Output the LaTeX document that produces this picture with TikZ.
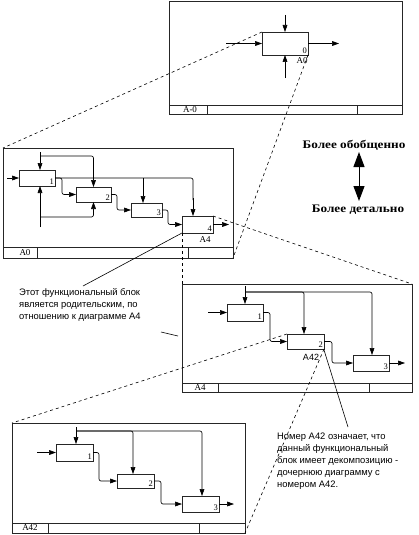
\documentclass[tikz,border=0pt]{standalone}
\usepackage{fontspec}
\setmainfont{Liberation Serif}
\newfontfamily\sansf{Liberation Sans}
\newfontfamily\widef[FakeStretch=1.15]{Liberation Serif}
\usetikzlibrary{arrows.meta,calc}
\begin{document}
\begin{tikzpicture}[x=1pt,y=-1pt,
  frame/.style={draw=black!85,line width=0.9pt,inner sep=0pt,outer sep=0pt,anchor=north west},
  blk/.style={draw=black!85,line width=0.75pt,inner sep=0pt,outer sep=0pt},
  num/.style={font=\fontsize{8.5}{8.5}\selectfont,inner sep=1pt,anchor=south east},
  lbl/.style={font=\fontsize{9}{9}\selectfont,inner sep=0pt},
  foot/.style={font=\fontsize{9}{9}\selectfont,inner sep=0pt},
  arr/.style={line width=0.65pt,-{Triangle[length=7pt,width=4.8pt]},rounded corners=2pt},
  ln/.style={line width=0.65pt,rounded corners=2pt},
  dsh/.style={line width=0.6pt,dash pattern=on 3pt off 3pt},
  ptr/.style={line width=0.6pt},
  note/.style={font=\sansf\fontsize{9.4}{12}\selectfont,align=left,inner sep=0pt},
  big/.style={font=\widef\bfseries\fontsize{11.5}{12}\selectfont,inner sep=0pt}]
\useasboundingbox (0,0) rectangle (419,535);

% ---------------- Frame 1 (A-0)
\node[frame,minimum width=233pt,minimum height=113pt] (f1) at (169,1) {};
\draw[line width=0.9pt,draw=black!85] (169,105) -- (402,105) (207,105) -- (207,114) (357,105) -- (357,114);
\node[foot] (f1t) at (190,110) {A-0};
\node[blk,minimum width=46pt,minimum height=23pt] (a0) at (285,43.5) {};
\node[num] (a0n) at (a0.south east) {0};
\node[lbl] (a0l) at (302,61) {A0};
\coordinate (a0c) at (285,15);
\coordinate (a0i) at (226,43.5);
\coordinate (a0o) at (339,43.5);
\coordinate (a0m) at (285,78);
\draw[arr] (a0c) -- (a0.north);
\draw[arr] (a0i) -- (a0.west);
\draw[arr] (a0.east) -- (a0o);
\draw[arr] (a0m) -- (a0.south);

% ---------------- Frame 2 (A0)
\node[frame,minimum width=230pt,minimum height=110pt] (f2) at (3,148) {};
\draw[line width=0.9pt,draw=black!85] (3,247) -- (233,247) (37,247) -- (37,258) (188,247) -- (188,258);
\node[foot] (f2t) at (25,253) {A0};
\node[blk,minimum width=36pt,minimum height=16pt] (b1) at (37,178) {};
\node[blk,minimum width=35pt,minimum height=15pt] (b2) at (93.5,194.5) {};
\node[blk,minimum width=31pt,minimum height=14pt] (b3) at (146.5,210) {};
\node[blk,minimum width=31pt,minimum height=17pt] (b4) at (197.5,224.5) {};
\node[num] (b1n) at (b1.south east) {1};
\node[num] (b2n) at (b2.south east) {2};
\node[num] (b3n) at (b3.south east) {3};
\node[num] (b4n) at (b4.south east) {4};
\node[lbl] (b4l) at (205,240) {A4};
\coordinate (b1i) at (7,178);
\coordinate (b1c) at (40,152);
\coordinate (b1m) at (40,227);
\coordinate (b4o) at (229,224.5);
\draw[arr] (b1i) -- (b1.west);
\draw[arr] (b1c) -- (b1c |- b1.north);
\draw[arr] (40,156) -- (93.5,156) -- (b2.north);
\draw[ln] (b1.east) -- (193,178) -- (193,200);
\draw[arr] (193,198) -- (193,216);
\draw[arr] (143,178) -- (143 ,203);
\draw[arr] (55,178) -- (62,178) -- (62,194.5) -- (b2.west);
\draw[arr] (b2.east) -- (117,194.5) -- (117,210) -- (b3.west);
\draw[arr] (b3.east) -- (168,210) -- (168,224.5) -- (b4.west);
\draw[arr] (b4.east) -- (b4o);
\draw[arr] (b1m) -- (b1m |- b1.south);
\draw[arr] (40,217) -- (93.5,217) -- (b2.south);

% ---------------- Frame 3 (A4)
\node[frame,minimum width=230pt,minimum height=108pt] (f3) at (182,284) {};
\draw[line width=0.9pt,draw=black!85] (182,383) -- (412,383) (218,383) -- (218,392) (369,383) -- (369,392);
\node[foot] (f3t) at (200,388) {A4};
\node[blk,minimum width=36pt,minimum height=17pt] (c1) at (245,312.5) {};
\node[blk,minimum width=37pt,minimum height=15pt] (c2) at (305.5,341.5) {};
\node[blk,minimum width=36pt,minimum height=16pt] (c3) at (371,363) {};
\node[num] (c1n) at (c1.south east) {1};
\node[num] (c2n) at (c2.south east) {2};
\node[num] (c3n) at (c3.south east) {3};
\node[lbl,font=\sansf\fontsize{9}{9}\selectfont] (c2l) at (311,357) {A42};
\coordinate (c1i) at (208,312.5);
\coordinate (c1c) at (245,286);
\coordinate (c3o) at (405,363);
\draw[arr] (c1i) -- (c1.west);
\draw[arr] (c1c) -- (c1.north);
\draw[arr] (245,292) -- (304,292) -- (304,334);
\draw[arr] (245,292) -- (372,292) -- (372,355);
\draw[arr] (c1.east) -- (270,312.5) -- (270,341.5) -- (c2.west);
\draw[arr] (c2.east) -- (332,341.5) -- (332,363) -- (c3.west);
\draw[arr] (c3.east) -- (c3o);

% ---------------- Frame 4 (A42)
\node[frame,minimum width=233pt,minimum height=110pt] (f4) at (12,423) {};
\draw[line width=0.9pt,draw=black!85] (12,523) -- (245,523) (48,523) -- (48,533) (199,523) -- (199,533);
\node[foot] (f4t) at (30,528) {A42};
\node[blk,minimum width=37pt,minimum height=17pt] (d1) at (74.5,452.5) {};
\node[blk,minimum width=37pt,minimum height=14pt] (d2) at (135.5,481) {};
\node[blk,minimum width=37pt,minimum height=16pt] (d3) at (200.5,504) {};
\node[num] (d1n) at (d1.south east) {1};
\node[num] (d2n) at (d2.south east) {2};
\node[num] (d3n) at (d3.south east) {3};
\coordinate (d1i) at (37,452.5);
\coordinate (d1c) at (76,427);
\coordinate (d3o) at (234,504);
\draw[arr] (d1i) -- (d1.west);
\draw[arr] (d1c) -- (d1c |- d1.north);
\draw[arr] (76,431) -- (133,431) -- (133,474);
\draw[arr] (76,431) -- (202,431) -- (202,496);
\draw[arr] (d1.east) -- (99,452.5) -- (99,481) -- (d2.west);
\draw[arr] (d2.east) -- (161,481) -- (161,504) -- (d3.west);
\draw[arr] (d3.east) -- (d3o);

% ---------------- dashed decomposition lines
\draw[dsh] (a0.north west) -- (f2.north west);
\draw[dsh] (a0.south east) -- (f2.south east);
\draw[dsh] (b4.south west) -- (f3.north west);
\draw[dsh] (b4.north east) -- (f3.north east);
\draw[dsh] (c2.north west) -- (f4.north west);
\draw[dsh] (c2.south east) -- (f4.south east);

% ---------------- notes
\node[note,anchor=north west] (n1) at (19,288) {Этот функциональный блок\\является родительским, по\\отношению к диаграмме А4};
\draw[ptr] (b4.south west) -- (83,286);
\draw[ptr] (161,332) -- (178,336);
\node[note,anchor=north west] (n2) at (277,433) {Номер А42 означает, что\\данный функциональный\\блок имеет декомпозицию -\\дочернюю диаграмму с\\номером А42.};
\draw[ptr] (324,350) -- (348,427);

% ---------------- generality arrow
\node[big] (g1) at (354,145) {Более обобщенно};
\node[big] (g2) at (358,210) {Более детально};
\coordinate (ga) at (359,152);
\coordinate (gb) at (359,201);
\draw[line width=1pt,{Triangle[length=15pt,width=11pt]}-{Triangle[length=15pt,width=11pt]}] (ga) -- (gb);
\end{tikzpicture}
\end{document}
